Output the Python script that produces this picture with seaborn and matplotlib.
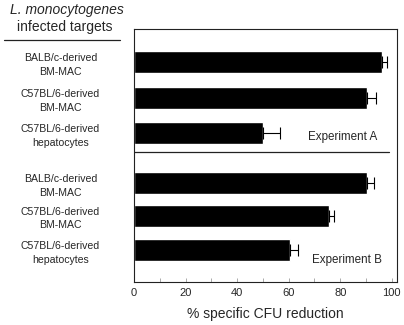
import pandas as pd
import matplotlib.pyplot as plt
import seaborn as sns
from matplotlib.lines import Line2D
from matplotlib.ticker import MultipleLocator

# ---------------- data ----------------
target_labels = ['BALB/c-derived\nBM-MAC', 'C57BL/6-derived\nBM-MAC', 'C57BL/6-derived\nhepatocytes']
experiments = ['Experiment A', 'Experiment B']
exp_a_reduction = [96, 90.5, 50]
exp_a_error = [2, 3.5, 6.5]
exp_b_reduction = [90.5, 75.5, 60.5]
exp_b_error = [2.5, 2, 3]

# row layout (experiment B sits a bit lower, below the divider)
row_pos = [0, 1.04, 2.06, 3.51, 4.46, 5.45]

df = pd.DataFrame({
    'target': target_labels * 2,
    'experiment': [experiments[0]] * 3 + [experiments[1]] * 3,
    'reduction': exp_a_reduction + exp_b_reduction,
    'error': exp_a_error + exp_b_error,
    'row': row_pos,
})

sns.set_style("white")
plt.rcParams['font.family'] = ['Liberation Sans', 'DejaVu Sans']

fig = plt.figure(figsize=(4.04, 3.25), dpi=100)
ax = fig.add_axes([134 / 404, 1 - 282 / 325, (397 - 134) / 404, (282 - 29) / 325])

sns.barplot(data=df, x='reduction', y='row', orient='h', native_scale=True,
            width=0.66, color='black', saturation=1, errorbar=None, ax=ax)
ax.errorbar(df['reduction'], df['row'], xerr=[[0] * len(df), df['error']],
            fmt='none', ecolor='black', elinewidth=0.8, capsize=4.3, capthick=0.8)

ax.set_xlim(0, 102)
ax.set_ylim(6.38, -0.96)

# divider between the two experiments
ax.axhline(2.61, xmin=0, xmax=0.97, color='#222222', lw=0.9)

ax.text(67.5, 2.17, experiments[0], fontsize=8.4, va='center', ha='left')
ax.text(69, 5.74, experiments[1], fontsize=8.4, va='center', ha='left')

ax.set_yticks(df['row'])
ax.set_yticklabels(df['target'], ha='center', multialignment='center', linespacing=1.45, fontsize=7.6)
ax.tick_params(axis='y', length=0, pad=53)

ax.xaxis.set_major_locator(MultipleLocator(20))
ax.xaxis.set_minor_locator(MultipleLocator(10))
ax.tick_params(axis='x', which='both', direction='in', length=3, width=0.5,
               color='#888888', labelsize=8, pad=4, bottom=True)
ax.set_xlabel('% specific CFU reduction', fontsize=10, labelpad=7)
ax.set_ylabel('')

for side in ['top', 'bottom', 'left', 'right']:
    ax.spines[side].set_visible(True)
    ax.spines[side].set_color('#222222')
    ax.spines[side].set_linewidth(0.8)

# header above the row labels
fig.text(67 / 404, 1 - 10 / 325, 'L. monocytogenes', fontsize=10, style='italic', ha='center', va='center')
fig.text(65 / 404, 1 - 27 / 325, 'infected targets', fontsize=10, ha='center', va='center')
fig.add_artist(Line2D([4 / 404, 120 / 404], [1 - 40 / 325, 1 - 40 / 325], color='#222222', lw=0.9))

plt.savefig('out.png', dpi=100)
plt.close()
